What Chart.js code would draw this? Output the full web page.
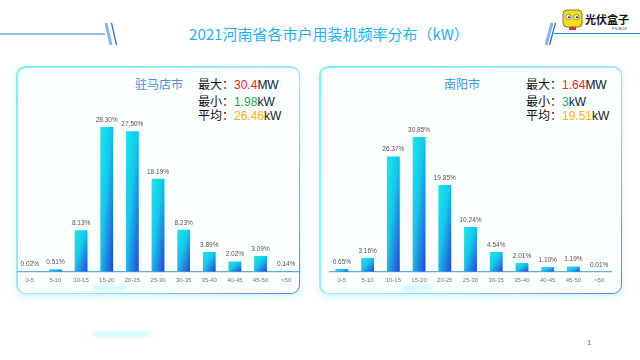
<!DOCTYPE html>
<html>
<head>
<meta charset="utf-8">
<script src="https://cdn.jsdelivr.net/npm/chart.js@4.4.0/dist/chart.umd.min.js"></script>
<style>
  body { margin:0; width:640px; height:360px; background:#fff; position:relative; overflow:hidden; font-family:"Noto Sans CJK SC", sans-serif; }
  .abs { position:absolute; }
  .panel { position:absolute; top:66px; height:228px; border-radius:9px; padding:1.5px; box-sizing:border-box;
    background:linear-gradient(135deg,#7cf0f4 0%,#a6e6fa 55%,#5f7ce6 100%);
    box-shadow:0 3px 7px rgba(110,225,245,0.35); }
  .panel .inner { width:100%; height:100%; border-radius:8px; background:#fbffff; }
  .glow { position:absolute; height:4px; background:#bff6fb; filter:blur(2px); border-radius:3px; }
  .city { position:absolute; top:75px; font-size:12px; color:#4a8fdc; line-height:18px; }
  .stat { position:absolute; font-size:12px; line-height:16px; color:#111; white-space:nowrap; }
  .stat b { font-weight:normal; font-family:"Liberation Sans", Arial, sans-serif; }
  .unit { color:#101830; }
  .chartbox { position:absolute; top:67px; height:226px; }
</style>
</head>
<body>
<svg class="abs" style="left:0;top:0" width="640" height="60">
  <line x1="0" y1="34" x2="105" y2="34" stroke="#2a7fd0" stroke-width="1"/>
  <line x1="106" y1="23" x2="111" y2="45" stroke="#7fb9f0" stroke-width="3"/>
  <line x1="111.5" y1="23" x2="116.5" y2="45" stroke="#2467b8" stroke-width="1.2"/>
  <line x1="552" y1="23" x2="546" y2="45" stroke="#7fb9f0" stroke-width="3"/>
  <line x1="555.5" y1="23" x2="549.5" y2="45" stroke="#2467b8" stroke-width="1.2"/>
  <line x1="554" y1="33.5" x2="640" y2="33.5" stroke="#2a7fd0" stroke-width="1"/>
  <rect x="563" y="10" width="19" height="17" rx="4" fill="#f7dc1c" stroke="#6b5a10" stroke-width="0.8"/>
  <circle cx="568.5" cy="17" r="2.6" fill="#fff" stroke="#333" stroke-width="0.5"/>
  <circle cx="576.5" cy="17" r="2.6" fill="#fff" stroke="#333" stroke-width="0.5"/>
  <circle cx="569" cy="17.3" r="1" fill="#222"/>
  <circle cx="577" cy="17.3" r="1" fill="#222"/>
  <rect x="569" y="27" width="7" height="3" fill="#e03030"/>
</svg>
<div class="abs" style="left:585px;top:12px;font-size:11px;font-weight:bold;line-height:14px;color:#111;">光伏盒子</div>
<div class="abs" style="left:612px;top:26px;font-size:4px;line-height:5px;color:#333;font-family:'Liberation Sans',sans-serif;">PV-BOX</div>
<div class="abs" style="left:0;width:658px;top:23px;text-align:center;font-size:15px;line-height:22px;color:#1db3f2;">2021河南省各市户用装机频率分布（kW）</div>

<div class="panel" style="left:16px;width:284px;"><div class="inner"></div></div>
<div class="panel" style="left:319px;width:303px;"><div class="inner"></div></div>
<div class="glow" style="left:93px;top:286px;width:34px;"></div>
<div class="glow" style="left:402px;top:286px;width:30px;"></div>
<div class="glow" style="left:93px;top:332px;width:57px;"></div>

<div class="city" style="left:135px;">驻马店市</div>
<div class="stat" style="left:198px;top:76px;">最大：<b style="color:#ff2020">30.4</b><b class="unit">MW</b></div>
<div class="stat" style="left:198px;top:93px;">最小：<b style="color:#1aa860">1.98</b><b class="unit">kW</b></div>
<div class="stat" style="left:198px;top:107px;">平均：<b style="color:#ffb300">26.46</b><b class="unit">kW</b></div>

<div class="city" style="left:444px;">南阳市</div>
<div class="stat" style="left:526px;top:76px;">最大：<b style="color:#ff2020">1.64</b><b class="unit">MW</b></div>
<div class="stat" style="left:526px;top:93px;">最小：<b style="color:#1aa860">3</b><b class="unit">kW</b></div>
<div class="stat" style="left:526px;top:107px;">平均：<b style="color:#ffb300">19.51</b><b class="unit">kW</b></div>

<div class="chartbox" style="left:17px;width:282px;"><canvas id="left"></canvas></div>
<div class="chartbox" style="left:329px;width:283px;"><canvas id="right"></canvas></div>

<div class="abs" style="left:587px;top:337px;font-size:8px;line-height:12px;color:#777;font-family:'Liberation Sans',sans-serif;">1</div>

<script>
  // power ranges (kW)
  var categories = ['0-5', '5-10', '10-15', '15-20', '20-25', '25-30', '30-35', '35-40', '40-45', '45-50', '>50'];
  // share of installations, %
  var zhumadianValues = [0.02, 0.51, 8.13, 28.30, 27.50, 18.19, 8.23, 3.89, 2.02, 3.09, 0.14];
  var nanyangValues = [0.65, 3.16, 26.37, 30.85, 19.85, 10.24, 4.54, 2.01, 1.10, 1.19, 0.01];

  // gradient "to bottom right" over each bar's own box
  function barGradient(c) {
    var chart = c.chart;
    if (c.type !== 'data' || !chart.chartArea) return '#16d8ea';
    var xs = chart.scales.x, ys = chart.scales.y;
    var cx = xs.getPixelForValue(c.dataIndex);
    var top = ys.getPixelForValue(c.raw);
    var base = ys.getPixelForValue(0);
    var w = xs.width / categories.length * 0.5;
    var h = Math.max(base - top, 0.5);
    var cy = (top + base) / 2;
    var d = Math.sqrt(w * w + h * h);
    var L = w * h / d;
    var dx = h / d, dy = w / d;
    var g = chart.ctx.createLinearGradient(cx - dx * L, cy - dy * L, cx + dx * L, cy + dy * L);
    g.addColorStop(0, '#10eeea');
    g.addColorStop(0.45, '#17c6ec');
    g.addColorStop(1, '#2a40d4');
    return g;
  }

  var valueLabels = {
    id: 'valueLabels',
    afterDatasetsDraw: function(chart) {
      var ctx = chart.ctx;
      var meta = chart.getDatasetMeta(0);
      var data = chart.data.datasets[0].data;
      ctx.save();
      ctx.font = '6.5px "Liberation Sans", Arial, sans-serif';
      ctx.fillStyle = '#555';
      ctx.textAlign = 'center';
      ctx.textBaseline = 'middle';
      meta.data.forEach(function(bar, i) {
        ctx.fillText(data[i].toFixed(2) + '%', bar.x, bar.y - 7);
      });
      ctx.restore();
    }
  };

  function makeChart(id, values, yMax) {
    return new Chart(document.getElementById(id), {
      type: 'bar',
      data: {
        labels: categories,
        datasets: [{
          data: values,
          backgroundColor: barGradient,
          borderWidth: 0,
          barPercentage: 0.5,
          categoryPercentage: 1
        }]
      },
      options: {
        responsive: true,
        maintainAspectRatio: false,
        animation: false,
        layout: { padding: { top: 33, bottom: 4, left: 0, right: 0 } },
        plugins: { legend: { display: false }, tooltip: { enabled: false } },
        scales: {
          x: {
            grid: { display: false, drawTicks: false },
            border: { display: true, color: '#62aee2', width: 1.2 },
            ticks: {
              color: '#777', padding: 5, maxRotation: 0, autoSkip: false,
              font: { size: 6, family: '"Liberation Sans", Arial, sans-serif' }
            }
          },
          y: { display: false, min: 0, max: yMax }
        }
      },
      plugins: [valueLabels]
    });
  }

  makeChart('left', zhumadianValues, 33.6);
  makeChart('right', nanyangValues, 39.3);
</script>
</body>
</html>
